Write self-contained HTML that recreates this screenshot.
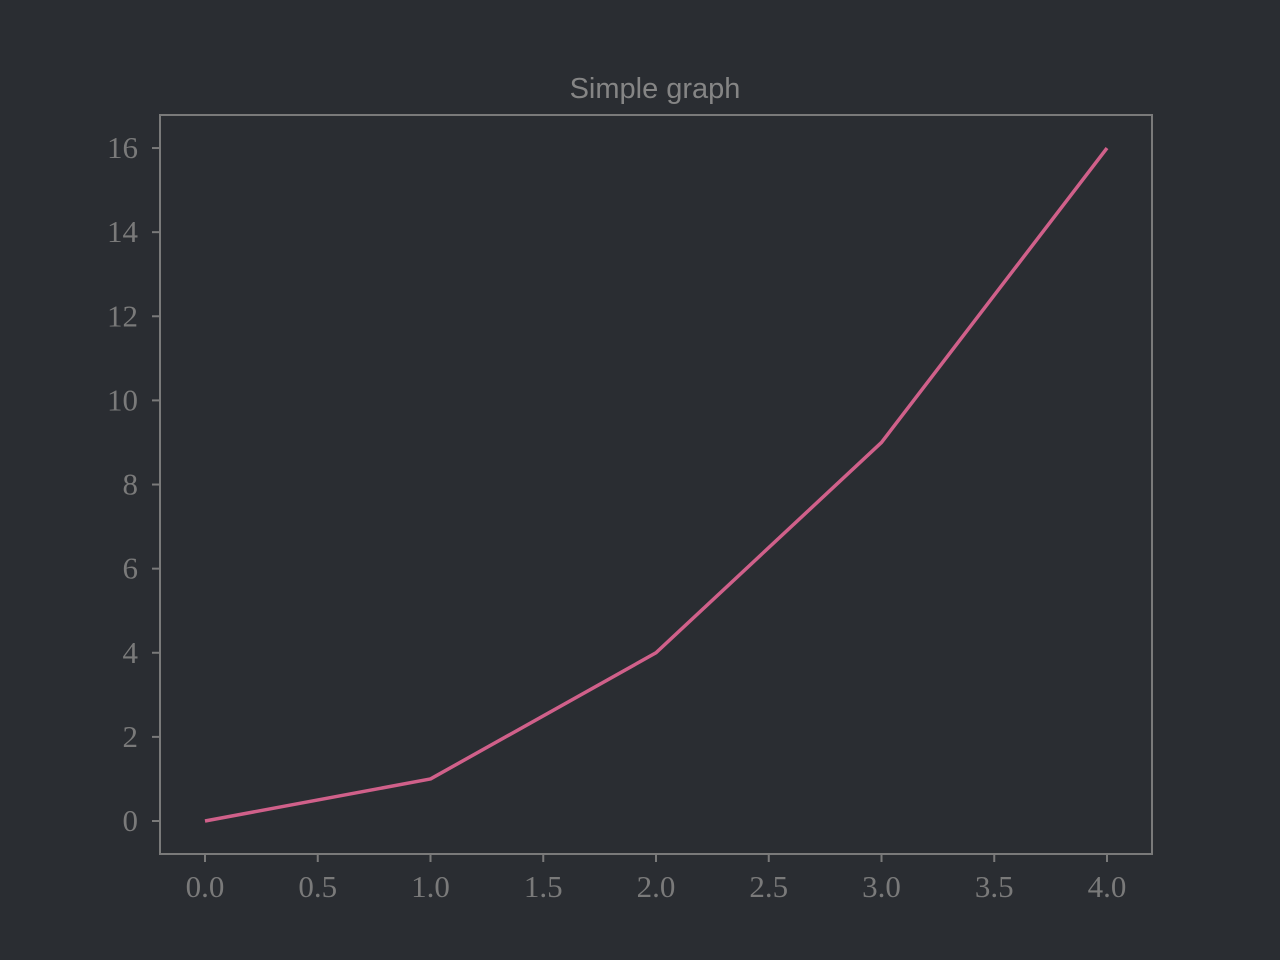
<!DOCTYPE html>
<html><head><meta charset="utf-8"><style>
html,body{margin:0;padding:0;background:#2a2d32;}
svg{display:block}
.tick{font-family:"Liberation Serif",serif;font-size:31px;fill:#7a7a7a}
</style></head><body>
<svg id="chart" width="1280" height="960" xmlns="http://www.w3.org/2000/svg">
<rect width="1280" height="960" fill="#2a2d32"/>
<text x="655" y="98" text-anchor="middle" font-family="Liberation Sans, sans-serif" font-size="29" fill="#858585">Simple graph</text>
<g id="plot"></g>
</svg>
<script>
const xValues=[0,1,2,3,4];
const yValues=[0,1,4,9,16];
const xTicks=[0,0.5,1,1.5,2,2.5,3,3.5,4];
const xTickLabels=["0.0","0.5","1.0","1.5","2.0","2.5","3.0","3.5","4.0"];
const yTicks=[0,2,4,6,8,10,12,14,16];
const yTickLabels=["0","2","4","6","8","10","12","14","16"];
const NS="http://www.w3.org/2000/svg";
const g=document.getElementById('plot');
const X=v=>205+v*225.5;
const Y=v=>821-v*42.06;
function mk(t,a){const e=document.createElementNS(NS,t);for(const k in a)e.setAttribute(k,a[k]);g.appendChild(e);return e;}
xTicks.forEach((t,i)=>{
 const l=mk('line',{x1:X(t),x2:X(t),y1:854,y2:862,stroke:'#7a7a7a','stroke-width':2});
 
 
 const tx=mk('text',{x:X(t),y:897,'text-anchor':'middle',class:'tick'});
 tx.textContent=xTickLabels[i];
 
 
});
yTicks.forEach((t,i)=>{
 const l=mk('line',{x1:152,x2:160,y1:Y(t),y2:Y(t),stroke:'#7a7a7a','stroke-width':2});
 
 
 const tx=mk('text',{x:138,y:Y(t)+10,'text-anchor':'end',class:'tick'});
 tx.textContent=yTickLabels[i];
 
 
});
const box=mk('rect',{x:160,y:115,width:992,height:739,fill:'none',stroke:'#7a7a7a','stroke-width':2});


const pl=mk('polyline',{points:xValues.map((x,i)=>X(x)+','+Y(yValues[i])).join(' '),fill:'none',stroke:'#d0608a','stroke-width':3.5,'stroke-linejoin':'round'});


</script>
</body></html>
